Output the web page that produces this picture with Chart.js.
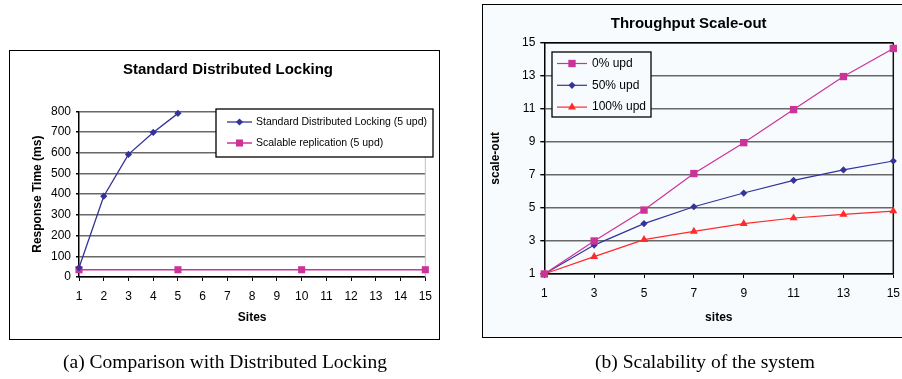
<!DOCTYPE html>
<html>
<head>
<meta charset="utf-8">
<script src="https://cdn.jsdelivr.net/npm/chart.js@4"></script>
<style>
  html, body { margin: 0; padding: 0; background: #fff; overflow: hidden; }
  body { width: 902px; height: 379px; position: relative; }
  canvas { position: absolute; }
  #leftChart { left: 9px; top: 50px; background: #fff; }
  #rightChart { left: 482px; top: 4px; background: #f8fbfe; }
  .frame { position: absolute; border: 1.5px solid #000; box-sizing: border-box; pointer-events: none; }
  #leftFrame { left: 9px; top: 50px; width: 431px; height: 290px; }
  #rightFrame { left: 482px; top: 4px; width: 440px; height: 334px; }
  .caption { position: absolute; top: 352px; font-family: "Liberation Serif", "Times New Roman", serif; font-size: 19.5px; transform: translateX(-50%); white-space: nowrap; line-height: 1; }
</style>
</head>
<body>
<canvas id="leftChart" width="431" height="290"></canvas>
<canvas id="rightChart" width="430" height="333"></canvas>
<div class="frame" id="leftFrame"></div>
<div class="frame" id="rightFrame"></div>
<div class="caption" style="left:225px">(a) Comparison with Distributed Locking</div>
<div class="caption" style="left:705px">(b) Scalability of the system</div>
<script>
// left chart data (response time in ms)
const sdlSites = [1, 2, 3, 4, 5];
const sdlTimes = [45, 390, 592, 698, 790];
const replSites = [1, 5, 10, 15];
const replTimes = [35, 35, 35, 35];

// right chart data (scale-out)
const sites = [1, 3, 5, 7, 9, 11, 13, 15];
const upd0 = [1, 3, 4.87, 7.08, 8.95, 10.95, 12.95, 14.65];
const upd50 = [1, 2.75, 4.05, 5.07, 5.9, 6.67, 7.3, 7.84];
const upd100 = [1, 2.05, 3.08, 3.58, 4.05, 4.39, 4.61, 4.81];

const NAVY = '#333399';
const MAGENTA = '#cc3399';
const RED = '#ff2a2a';
const GRID = '#686868';
const SANS = '"Liberation Sans", Arial, sans-serif';

const pts = (xs, ys) => xs.map((x, i) => ({x: x, y: ys[i]}));

function marker(ctx, style, r, x, y) {
    ctx.beginPath();
    if (style === 'rect') {
        const s = r * Math.SQRT1_2;
        ctx.rect(x - s, y - s, 2 * s, 2 * s);
    } else if (style === 'rectRot') {
        ctx.moveTo(x - r, y); ctx.lineTo(x, y - r); ctx.lineTo(x + r, y); ctx.lineTo(x, y + r);
        ctx.closePath();
    } else {
        ctx.moveTo(x, y - r);
        ctx.lineTo(x + r * 0.866, y + r / 2);
        ctx.lineTo(x - r * 0.866, y + r / 2);
        ctx.closePath();
    }
    ctx.fill();
}

// legend box drawn inside the plot, excel style
const boxLegend = {
    id: 'boxLegend',
    afterDraw(chart, args, o) {
        const ctx = chart.ctx;
        ctx.save();
        ctx.fillStyle = o.background;
        ctx.fillRect(o.x, o.y, o.w, o.h);
        ctx.strokeStyle = '#000';
        ctx.lineWidth = 1.3;
        ctx.strokeRect(o.x, o.y, o.w, o.h);
        ctx.font = o.fontSize + 'px ' + SANS;
        ctx.textBaseline = 'middle';
        chart.data.datasets.forEach((ds, i) => {
            const y = o.y + o.rowTop + i * o.rowGap;
            const x0 = o.x + o.lineStart;
            ctx.strokeStyle = ds.borderColor;
            ctx.lineWidth = ds.borderWidth;
            ctx.beginPath();
            ctx.moveTo(x0, y);
            ctx.lineTo(x0 + o.lineLen, y);
            ctx.stroke();
            ctx.fillStyle = ds.borderColor;
            marker(ctx, ds.pointStyle, ds.pointRadius, x0 + o.lineLen / 2, y);
            ctx.fillStyle = '#000';
            ctx.fillText(ds.label, x0 + o.lineLen + o.textGap, y);
        });
        ctx.restore();
    }
};

// extra edges of the plot area
const plotFrame = {
    id: 'plotFrame',
    beforeDatasetsDraw(chart, args, o) {
        const a = chart.chartArea, ctx = chart.ctx;
        ctx.save();
        ctx.lineWidth = o.width || 1.2;
        if (o.top) { ctx.strokeStyle = o.top; ctx.beginPath(); ctx.moveTo(a.left, a.top); ctx.lineTo(a.right, a.top); ctx.stroke(); }
        if (o.right) { ctx.strokeStyle = o.right; ctx.beginPath(); ctx.moveTo(a.right, a.top); ctx.lineTo(a.right, a.bottom); ctx.stroke(); }
        ctx.restore();
    }
};

function series(label, xs, ys, color, style, radius, width) {
    return {
        label: label, data: pts(xs, ys),
        borderColor: color, backgroundColor: color,
        borderWidth: width, pointStyle: style, pointRadius: radius,
        pointBorderWidth: 0, pointBackgroundColor: color,
        tension: 0, fill: false, clip: false
    };
}

const tickFont = {family: SANS, size: 12};
const titleFont = {family: SANS, size: 15, weight: 'bold'};
const axisFont = {family: SANS, size: 12, weight: 'bold'};

new Chart(document.getElementById('leftChart'), {
    type: 'line',
    data: {
        datasets: [
            series('Standard Distributed Locking (5 upd)', sdlSites, sdlTimes, NAVY, 'rectRot', 3.6, 1.3),
            series('Scalable replication (5 upd)', replSites, replTimes, MAGENTA, 'rect', 5, 1.5)
        ]
    },
    options: {
        responsive: false,
        animation: false,
        layout: {padding: {left: 17, right: 10, top: 0, bottom: 0}},
        plugins: {
            legend: {display: false},
            tooltip: {enabled: false},
            title: {display: true, text: 'Standard Distributed Locking', color: '#000', font: titleFont, padding: {top: 11, bottom: 32.3}},
            boxLegend: {x: 207, y: 59, w: 217, h: 48, background: '#fff', fontSize: 10.5, rowTop: 13, rowGap: 21, lineStart: 11, lineLen: 25, textGap: 4},
            plotFrame: {right: '#c0c0c0', width: 1}
        },
        scales: {
            x: {
                type: 'linear', min: 1, max: 15,
                ticks: {stepSize: 1, autoSkip: false, maxRotation: 0, color: '#000', font: tickFont, padding: 8},
                grid: {drawOnChartArea: false, tickLength: 4, tickColor: '#000'},
                border: {color: '#000', width: 1.5},
                title: {display: true, text: 'Sites', color: '#000', font: axisFont, padding: {top: 4, bottom: 15}},
                afterFit: s => { s.height = 63; }
            },
            y: {
                min: 0, max: 800,
                ticks: {stepSize: 100, color: '#000', font: tickFont, padding: 5},
                grid: {color: GRID, lineWidth: 1.4, tickLength: 3, tickColor: '#000'},
                border: {color: '#000', width: 1.5},
                title: {display: true, text: 'Response Time (ms)', color: '#000', font: axisFont, padding: {top: 4, bottom: 4}},
                afterFit: s => { s.width = 53; }
            }
        }
    },
    plugins: [boxLegend, plotFrame]
});

new Chart(document.getElementById('rightChart'), {
    type: 'line',
    data: {
        datasets: [
            series('0% upd', sites, upd0, MAGENTA, 'rect', 5.2, 1.2),
            series('50% upd', sites, upd50, NAVY, 'rectRot', 3.6, 1.2),
            series('100% upd', sites, upd100, RED, 'triangle', 4.6, 1.2)
        ]
    },
    options: {
        responsive: false,
        animation: false,
        layout: {padding: {left: 2, right: 18.7, top: 0, bottom: 0}},
        plugins: {
            legend: {display: false},
            tooltip: {enabled: false},
            title: {display: true, text: 'Throughput Scale-out', color: '#000', font: titleFont, padding: {top: 11, bottom: 9.7}},
            boxLegend: {x: 70, y: 48, w: 99, h: 65, background: '#f8fbfe', fontSize: 12, rowTop: 11.5, rowGap: 21.8, lineStart: 5, lineLen: 30, textGap: 5},
            plotFrame: {top: '#000', right: '#111', width: 1.5}
        },
        scales: {
            x: {
                type: 'linear', min: 1, max: 15,
                ticks: {stepSize: 2, autoSkip: false, maxRotation: 0, color: '#000', font: tickFont, padding: 8},
                grid: {drawOnChartArea: false, tickLength: 4, tickColor: '#000'},
                border: {color: '#000', width: 1.5},
                title: {display: true, text: 'sites', color: '#000', font: axisFont, padding: {top: 4, bottom: 12}},
                afterFit: s => { s.height = 63; }
            },
            y: {
                min: 1, max: 15,
                ticks: {stepSize: 2, color: '#000', font: tickFont, padding: 5},
                grid: {color: GRID, lineWidth: 1.4, tickLength: 4, tickColor: '#000'},
                border: {color: '#000', width: 1.5},
                title: {display: true, text: 'scale-out', color: '#000', font: axisFont, padding: {top: 4, bottom: 4}},
                afterFit: s => { s.width = 60.3; }
            }
        }
    },
    plugins: [boxLegend, plotFrame]
});
</script>
</body>
</html>
